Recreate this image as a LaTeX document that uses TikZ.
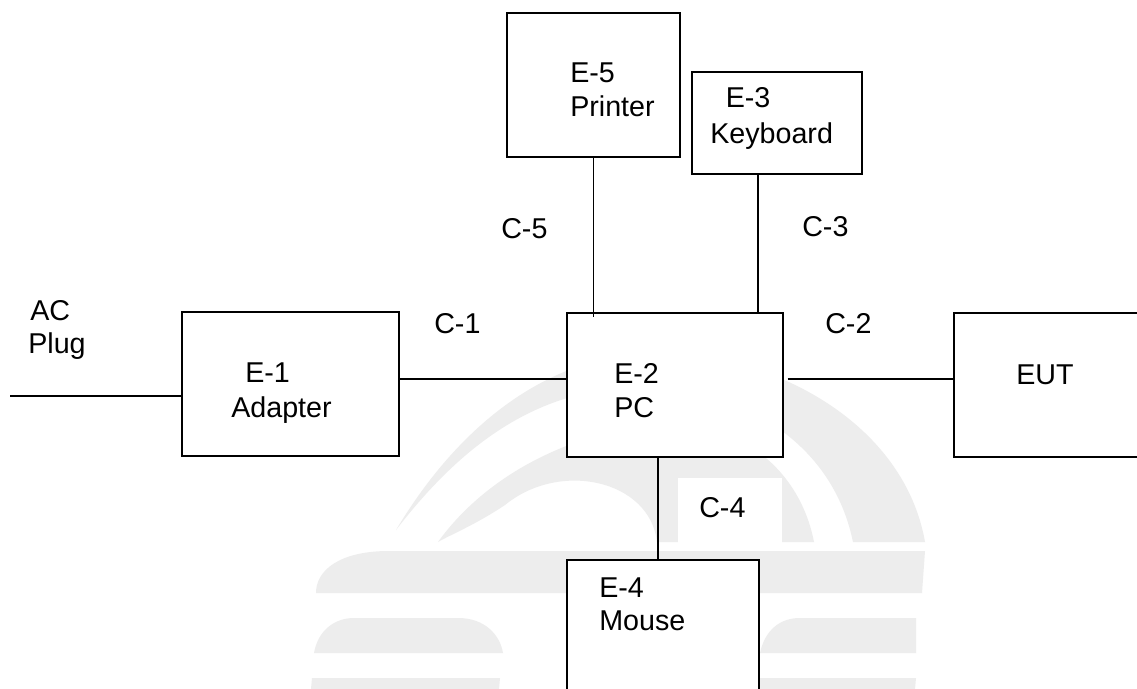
\documentclass[tikz,border=0pt]{standalone}
\usepackage{fontspec}
\setmainfont{Liberation Sans}
\definecolor{wm}{RGB}{237,237,237}
\begin{document}
\begin{tikzpicture}[x=0.75pt,y=-0.75pt,
  box/.style={draw=black,line width=1.3pt,fill=white,anchor=north west,inner sep=0pt},
  wire/.style={draw=black,line width=1.3pt},
  lab/.style={anchor=base west,inner sep=0pt,font=\fontsize{21.5}{25}\selectfont}]
\useasboundingbox (0,0) rectangle (1137,688);
\clip (0,0) rectangle (1137,688);
\fill[white] (0,0) rectangle (1137,688);
% faint watermark
\fill[wm] (396,530) .. controls (450,440) and (520,380) .. (600,360)
  .. controls (720,330) and (900,400) .. (925,542) -- (853,542)
  .. controls (830,430) and (720,380) .. (620,388)
  .. controls (520,396) and (450,460) .. (396,530) -- cycle;
\fill[wm] (438,542) .. controls (490,470) and (580,430) .. (660,425)
  .. controls (740,420) and (800,470) .. (814,542) -- (657,542)
  .. controls (650,480) and (560,460) .. (505,505)
  .. controls (475,525) and (450,535) .. (438,542) -- cycle;
\fill[wm] (316,593) .. controls (316,570) and (340,551) .. (389,551) -- (925,551) -- (922,593) -- cycle;
\fill[wm] (314,653) .. controls (318,630) and (335,618) .. (354,618) -- (458,618)
  .. controls (485,618) and (500,635) .. (503,653) -- cycle;
\fill[wm] (760,653) .. controls (765,630) and (780,618) .. (800,618) -- (916,618) -- (916,653) -- cycle;
\fill[wm] (312,678) -- (500,678) -- (498,700) -- (310,700) -- cycle;
\fill[wm] (760,678) -- (916,678) -- (914,700) -- (758,700) -- cycle;
\fill[white] (678,478) rectangle (782,545);
% boxes
\node[box,minimum width=162.75pt,minimum height=108pt] (adapter) at (181,311) {};
\node[box,minimum width=162pt,minimum height=108pt] (pc) at (566,312) {};
\node[box,minimum width=150pt,minimum height=108pt] (eut) at (953,312) {};
\node[box,minimum width=129.75pt,minimum height=108pt] (printer) at (506,12) {};
\node[box,minimum width=127.5pt,minimum height=76.5pt] (keyboard) at (691,71) {};
\node[box,minimum width=144pt,minimum height=150pt] (mouse) at (566,559) {};
% connector helpers
\coordinate (acend) at (10,396);
\coordinate (c1y) at (0,379);
\coordinate (c3x) at (758,0);
\coordinate (c4x) at (658,0);
% connectors
\draw[wire] (acend) -- (acend -| adapter.west);
\draw[wire] (adapter.east |- c1y) -- (pc.west |- c1y);
\draw[wire,shorten <=3pt] (pc.east |- c1y) -- (eut.west |- c1y);
\draw[wire] (printer.south) -- (printer.south |- pc.north) -- ++(0,5);
\draw[wire] (keyboard.south -| c3x) -- (pc.north -| c3x);
\draw[wire] (pc.south -| c4x) -- (mouse.north -| c4x);
% labels
\node[lab] (tac) at (30,320) {AC};
\node[lab] (tplug) at (28,353) {Plug};
\node[lab] (te1) at (245,382) {E-1};
\node[lab] (tadapter) at (231,417) {Adapter};
\node[lab] (te2) at (614,383) {E-2};
\node[lab] (tpc) at (614,417) {PC};
\node[lab] (teut) at (1016,384) {EUT};
\node[lab] (te5) at (570,83) {E-5};
\node[lab] (tprinter) at (570,117) {Printer};
\node[lab] (te3) at (725.5,108) {E-3};
\node[lab] (tkeyboard) at (710,143) {Keyboard};
\node[lab] (te4) at (599,597) {E-4};
\node[lab] (tmouse) at (599,630) {Mouse};
\node[lab] (tc1) at (434,333) {C-1};
\node[lab] (tc2) at (825,333) {C-2};
\node[lab] (tc3) at (802,236) {C-3};
\node[lab] (tc4) at (699,517) {C-4};
\node[lab] (tc5) at (501,238) {C-5};
\end{tikzpicture}
\end{document}
